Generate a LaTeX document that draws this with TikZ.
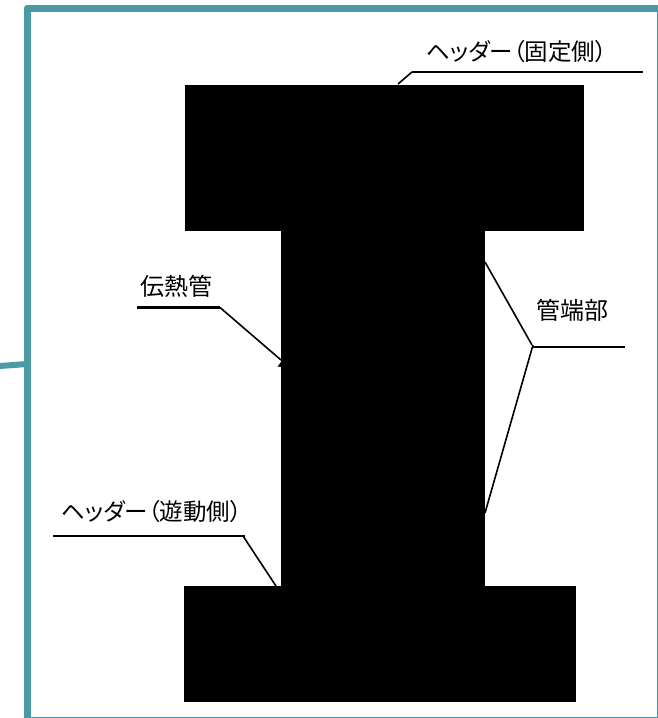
\documentclass[tikz,border=0pt]{standalone}
\usepackage{fontspec}
\newfontfamily\jpfont{Noto Sans CJK JP}
\newfontfamily\jppalt[RawFeature=+palt]{Noto Sans CJK JP}
\definecolor{frameteal}{HTML}{4A9AA3}
\begin{document}
\begin{tikzpicture}[x=1pt,y=-1pt,line cap=butt,
	lab/.style={inner sep=0pt,font=\jpfont\fontsize{24}{24}\selectfont},
	headlab/.style={inner sep=0pt,font=\jppalt\fontsize{23.5}{24}\selectfont},
	shelf/.style={black,line width=2.6pt},
	lead/.style={black,line width=1.6pt},
	frameline/.style={frameteal,line width=7pt,line join=round}]
	\useasboundingbox (0,0) rectangle (657,718);
	\draw[frameline] (27,8) rectangle (660,720);
	\coordinate (s1) at (0,366);
	\coordinate (s2) at (27,364);
	\draw[frameline,line width=6pt] (s1)--(s2);
	\fill[black] (185,85) rectangle (584,231);
	\fill[black] (281,231) rectangle (485,586);
	\fill[black] (184,586) rectangle (576,702);
	\fill[black] (281,362)--(281,367)--(277.5,366.5)--cycle;
	\node[headlab] (n1) at (516.5,52) 	{ヘッダー（固定側）};
	\node[lab] (n2) at (176.5,286) 	{伝熱管};
	\node[lab] (n3) at (572.5,310) 	{管端部};
	\node[headlab] (n4) at (151.5,512) 	{ヘッダー（遊動側）};
	\coordinate (a1) at (643,72);
	\coordinate (a2) at (412,72);
	\coordinate (a3) at (398,84);
	\coordinate (b1) at (137,307.5);
	\coordinate (b2) at (220,307.5);
	\coordinate (b3) at (281,360);
	\coordinate (c1) at (625,347);
	\coordinate (c2) at (533,347);
	\coordinate (c3) at (485,262);
	\coordinate (c4) at (485,513);
	\coordinate (c5) at (533,345);
	\coordinate (c6) at (532,345);
	\coordinate (d1) at (53,536);
	\coordinate (d2) at (245,536);
	\coordinate (d3) at (243,536);
	\coordinate (d4) at (276,586);
	\draw[shelf] (a1)--(a2);
	\draw[lead] (a2)--(a3);
	\draw[shelf] (b1)--(b2);
	\draw[lead] (b2)--(b3);
	\draw[shelf] (c1)--(c2);
	\draw[lead] (c6)--(c3);
	\draw[lead] (c5)--(c4);
	\draw[shelf] (d1)--(d2);
	\draw[lead] (d3)--(d4);
\end{tikzpicture}
\end{document}
